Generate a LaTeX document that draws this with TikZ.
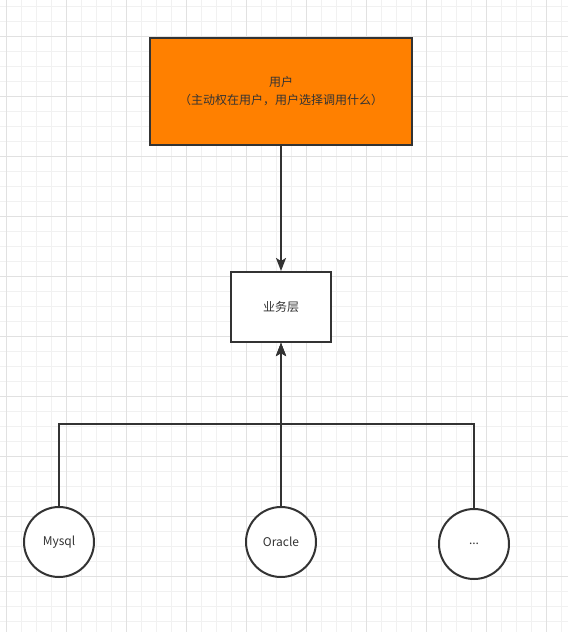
\documentclass[tikz,border=0pt]{standalone}
\usepackage{fontspec}
\usepackage{tikz}
\newfontfamily\cjk{Noto Sans CJK SC}
\usetikzlibrary{arrows.meta, positioning}
\definecolor{userorange}{HTML}{FF8000}
\definecolor{linegray}{HTML}{333333}
\definecolor{minorgray}{HTML}{F1F1F1}
\definecolor{majorgray}{HTML}{E1E1E1}
\tikzstyle{block} = [draw=linegray, line width=2pt, rectangle, font=\cjk\fontsize{12}{18}\selectfont, text=linegray, inner sep=2pt]
\tikzstyle{user} = [block, fill=userorange, minimum width=262pt, minimum height=107pt, align=center]
\tikzstyle{layer} = [block, fill=white, minimum width=100pt, minimum height=70pt]
\tikzstyle{store} = [block, circle, fill=white, minimum size=70pt]
\tikzstyle{link} = [-{Stealth[length=13pt, width=10pt, inset=3pt]}, line width=2pt, draw=linegray]
\tikzstyle{minor} = [draw=minorgray, line width=1pt]
\tikzstyle{major} = [draw=majorgray, line width=1pt]

\begin{document}
\begin{tikzpicture}[x=1pt, y=-1pt]
    % Grid.
    \useasboundingbox [fill=white] (0,0) rectangle (568,632);
    \foreach\i in {0,...,37} {
        \draw [minor] ({6.7+15*\i},0) -- ({6.7+15*\i},632);
    }
    \foreach\i in {0,...,41} {
        \draw [minor] (0,{6.7+15*\i}) -- (568,{6.7+15*\i});
    }
    \foreach\i in {0,...,9} {
        \draw [major] ({6.7+60*\i},0) -- ({6.7+60*\i},632);
        \draw [major] (0,{36.7+60*\i}) -- (568,{36.7+60*\i});
    }

    % Blocks.
    \node (user) [user] at (281,91.5) {用户\\（主动权在用户，用户选择调用什么）};
    \node (layer) [layer, below=125pt of user] {业务层};

    % Databases.
    \node (oracle) [store, below=163pt of layer] {Oracle};
    \node (mysql) [store, left=150pt of oracle] {Mysql};
    \node (dots) [store, right=121pt of oracle, yshift=-2pt] {...};
    \node (bus) [coordinate, below=81pt of layer.south] {};

    % Arrows.
    \draw [link] (user) -- (layer);
    \draw [link] (mysql) |- (bus) -- (layer);
    \draw [link] (oracle) -- (layer);
    \draw [link] (dots) |- (bus) -- (layer);
\end{tikzpicture}
\end{document}
